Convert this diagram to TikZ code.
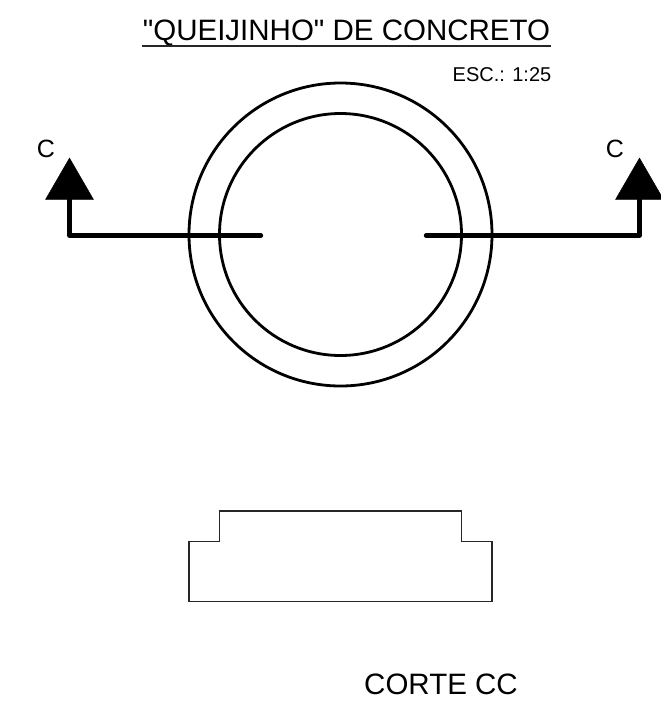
\documentclass[tikz,border=0pt]{standalone}
\usepackage{fontspec}
\setmainfont[Ligatures=TeXOff]{Liberation Sans}
\usepackage{xcolor}
\usepackage{tikz}

\tikzset{
    label28/.style={inner sep=0, font=\fontsize{29.5}{31}\selectfont},
    label24/.style={inner sep=0, font=\fontsize{25}{26}\selectfont},
    label19/.style={inner sep=0, font=\fontsize{20}{21}\selectfont},
    outline/.style={draw=black, line width=2.8pt},
    thinline/.style={draw=black!85, line width=1.9pt},
    cutline/.style={draw=black, line width=4.3pt, line join=round, line cap=round}
}

\begin{document}
\begin{tikzpicture}[x=1pt, y=-1pt]
        \useasboundingbox (0,0) rectangle (661,710);
        \node[label28, anchor=base] (title) at (346.5,40) {"QUEIJINHO" DE CONCRETO};
        \coordinate (titleleft) at (142,46);
        \coordinate (titleright) at (551,46);
        \draw[thinline] (titleleft) -- (titleright);
        \node[label19, anchor=base east] (scale) at (551.5,81) {ESC.: 1:25};
        % plan
        \filldraw[outline, fill=white] (340.5,234.5) circle (151.5);
        \filldraw[outline, fill=white] (340.5,234.5) circle (121);
        % cut marks
        \foreach \x/\y/\name in {69.5/261/left, 639.5/426/right}
        {
        \coordinate (corner\name) at (\x,235.5);
        \coordinate (end\name) at (\y,235.5);
        \coordinate (stem\name) at (\x,195);
        \draw[cutline] (stem\name) -- (corner\name) -- (end\name);
        \filldraw[black] (\x,158) -- (\x+24,199.5) -- (\x-24,199.5) -- cycle;
        }
        \node[label24, anchor=base] (cleft) at (46,157) {C};
        \node[label24, anchor=base] (cright) at (615,157) {C};
        % section
        \draw[thinline, line join=miter] (219.5,511) -- (461.5,511) -- (461.5,541.5) -- (492,541.5)
        -- (492,601.5) -- (189,601.5) -- (189,541.5) -- (219.5,541.5) -- cycle;
        \node[label28, anchor=base] (corte) at (441,694) {CORTE CC};
    \end{tikzpicture}
\end{document}
